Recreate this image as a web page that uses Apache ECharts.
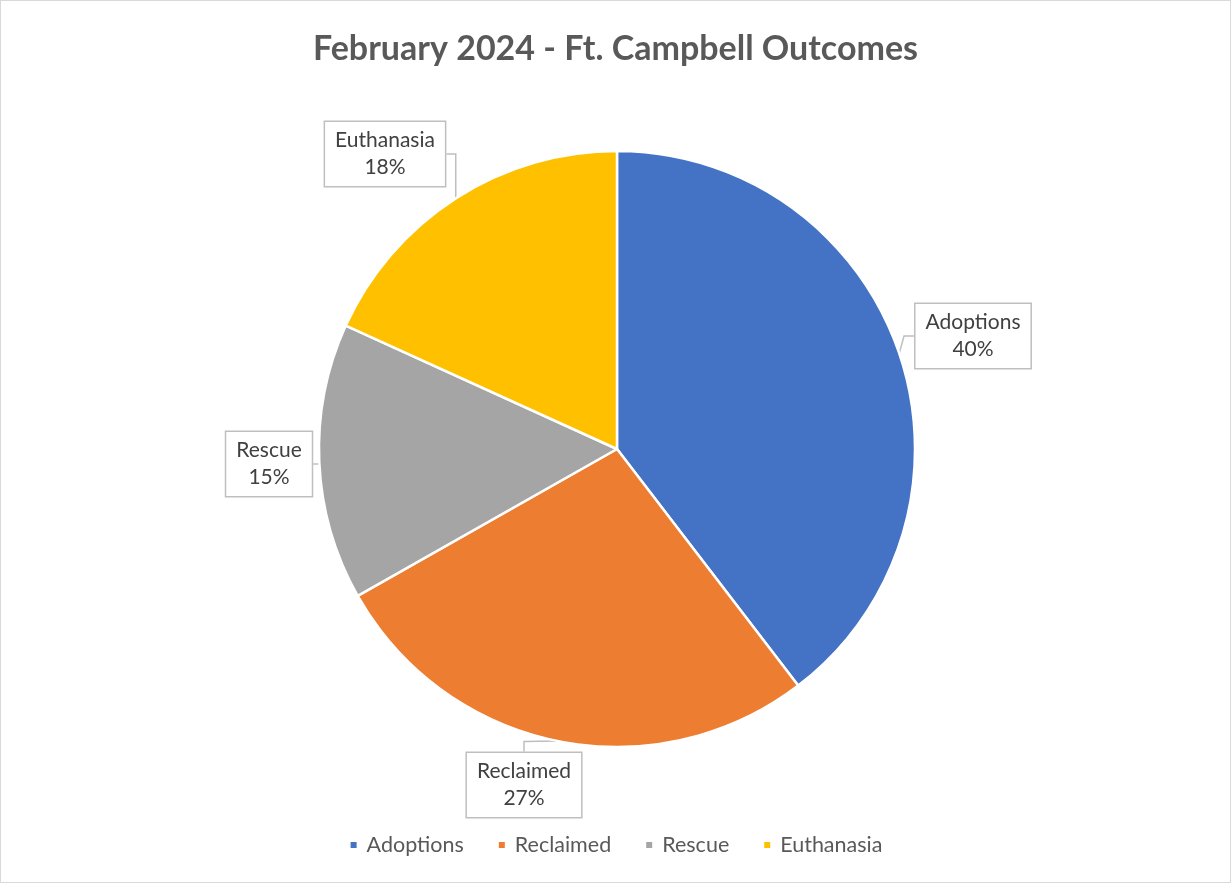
<!DOCTYPE html>
<html>
<head>
<meta charset="utf-8">
<script src="https://cdn.jsdelivr.net/npm/echarts@6/dist/echarts.min.js"></script>
<style>
html,body{margin:0;padding:0;background:#fff;}
#wrap{position:absolute;left:0;top:0;width:1229px;height:881px;border:1px solid #d9d9d9;}
#chart{width:1229px;height:881px;}
</style>
</head>
<body>
<div id="wrap"><div id="chart"></div></div>
<script>
const titleText = 'February 2024 - Ft. Campbell Outcomes';
const categories = ['Adoptions', 'Reclaimed', 'Rescue', 'Euthanasia'];
const values = [39.6, 27.2, 15.0, 18.2];
const colors = ['#4472C4', '#ED7D31', '#A5A5A5', '#FFC000'];

const labelCenters = [[972, 335], [523, 784], [268, 463], [384, 153]];

const chart = echarts.init(document.getElementById('chart'), null, {renderer: 'canvas'});
const FONT = 'Lato, "Liberation Sans", sans-serif';
chart.setOption({
  animation: false,
  color: colors,
  title: {
    text: titleText,
    left: 'center',
    top: 26,
    textStyle: {fontFamily: FONT, fontWeight: 'bold', fontSize: 34, color: '#595959'}
  },
  legend: {
    data: categories,
    bottom: 21,
    left: 'center',
    icon: 'rect',
    itemWidth: 8,
    itemHeight: 8,
    itemGap: 33,
    textStyle: {fontFamily: FONT, fontSize: 21.5, color: '#595959', padding: [0, 0, 0, 4]}
  },
  series: [{
    type: 'pie',
    center: [616, 448],
    radius: [0, 298],
    startAngle: 90,
    clockwise: true,
    percentPrecision: 0,
    itemStyle: {borderColor: '#ffffff', borderWidth: 2.5},
    label: {
      show: true,
      position: 'outside',
      formatter: '{b}\n{d}%',
      fontFamily: FONT,
      fontSize: 21,
      lineHeight: 27,
      color: '#404040',
      align: 'center',
      backgroundColor: '#ffffff',
      borderColor: '#bfbfbf',
      borderWidth: 1.5,
      padding: [5, 10, 5, 10]
    },
    labelLine: {show: true, length: 10, length2: 10, lineStyle: {color: '#bfbfbf', width: 1.5}},
    labelLayout: function (p) {
      const c = labelCenters[p.dataIndex];
      return {x: c[0], y: c[1], align: 'center', verticalAlign: 'middle'};
    },
    data: categories.map((n, i) => ({name: n, value: values[i]}))
  }]
});
</script>
</body>
</html>
